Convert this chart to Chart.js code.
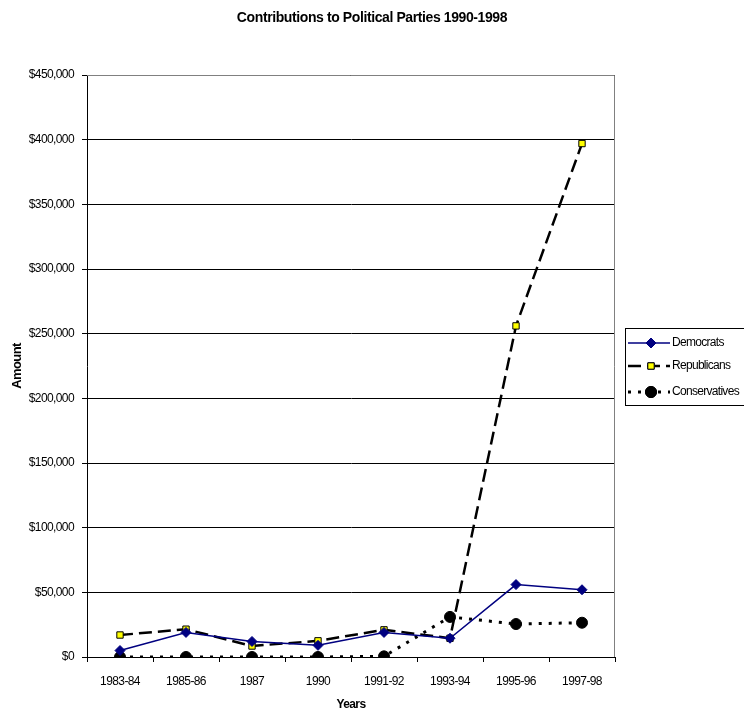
<!DOCTYPE html>
<html>
<head>
<meta charset="utf-8">
<script src="https://cdn.jsdelivr.net/npm/chart.js@4.4.0/dist/chart.umd.min.js"></script>
<style>
  html, body { margin: 0; padding: 0; background: #fff; }
  #wrap { width: 744px; height: 716px; }
</style>
</head>
<body>
<div id="wrap"><canvas id="chart" width="744" height="716"></canvas></div>
<script>
// chart data
const years = ['1983-84', '1985-86', '1987', '1990', '1991-92', '1993-94', '1995-96', '1997-98'];
const democrats = [5000, 19000, 12000, 9000, 19000, 14500, 56000, 52000];
const republicans = [17000, 21500, 8500, 12500, 21000, 14500, 256000, 397000];
const conservatives = [0, 0, 0, 0, 500, 31000, 25500, 26500];
const yTicks = [0, 50000, 100000, 150000, 200000, 250000, 300000, 350000, 400000, 450000];
const chartTitle = 'Contributions to Political Parties 1990-1998';

const FONT = 'Arial, "Liberation Sans", sans-serif';

// the original text is set tight, so squeeze the letters a bit
const tight = {
    id: 'tight',
    beforeLayout(chart) { chart.ctx.letterSpacing = '-0.6px'; },
    beforeDraw(chart) { chart.ctx.letterSpacing = '-0.6px'; }
};

// title centred on the whole picture, not just the plot
const pageTitle = {
    id: 'pageTitle',
    afterDraw(chart) {
        const ctx = chart.ctx;
        ctx.save();
        ctx.letterSpacing = '-0.4px';
        ctx.font = 'bold 14px ' + FONT;
        ctx.fillStyle = '#000';
        ctx.textAlign = 'center';
        ctx.textBaseline = 'middle';
        ctx.fillText(chartTitle, 372, 18);
        ctx.restore();
    }
};

// grey frame on top/right of the plot area
const frame = {
    id: 'frame',
    beforeDatasetsDraw(chart) {
        const { ctx, chartArea: a } = chart;
        ctx.save();
        ctx.strokeStyle = '#808080';
        ctx.lineWidth = 1;
        ctx.beginPath();
        ctx.moveTo(a.left, a.top + 0.5);
        ctx.lineTo(a.right - 0.5, a.top + 0.5);
        ctx.lineTo(a.right - 0.5, a.bottom);
        ctx.stroke();
        ctx.restore();
    }
};

// legend box with line + marker samples, like the original
const boxLegend = {
    id: 'boxLegend',
    afterDraw(chart) {
        const { ctx } = chart;
        const x = 625, y = 328, w = 126, h = 78;
        ctx.save();
        ctx.strokeStyle = '#000';
        ctx.lineWidth = 1;
        ctx.strokeRect(x + 0.5, y + 0.5, w - 1, h - 1);
        ctx.font = '12px ' + FONT;
        ctx.letterSpacing = '-0.7px';
        ctx.textBaseline = 'middle';
        ctx.fillStyle = '#000';
        const rows = [343, 366, 392];
        chart.data.datasets.forEach((ds, i) => {
            const cy = rows[i];
            ctx.save();
            ctx.strokeStyle = ds.borderColor;
            ctx.lineWidth = ds.borderWidth;
            ctx.setLineDash(ds.borderDash || []);
            ctx.beginPath();
            ctx.moveTo(x + 3, cy);
            ctx.lineTo(x + 45, cy);
            ctx.stroke();
            ctx.restore();
            Chart.helpers.drawPoint(ctx, {
                pointStyle: ds.pointStyle,
                radius: ds.pointRadius,
                borderWidth: ds.pointBorderWidth,
                rotation: 0
            }, x + 26, cy);
            ctx.fillStyle = ds.pointBackgroundColor;
            ctx.strokeStyle = ds.pointBorderColor;
            ctx.lineWidth = ds.pointBorderWidth;
            ctx.fill();
            ctx.stroke();
            ctx.fillStyle = '#000';
            ctx.fillText(ds.label, x + 47, cy);
        });
        ctx.restore();
    }
};

new Chart(document.getElementById('chart'), {
    type: 'line',
    data: {
        labels: years,
        datasets: [
            {
                label: 'Democrats',
                data: democrats,
                borderColor: '#000080',
                borderWidth: 1.5,
                pointStyle: 'rectRot',
                pointRadius: 5,
                pointBackgroundColor: '#000080',
                pointBorderColor: '#000080',
                pointBorderWidth: 1,
                tension: 0
            },
            {
                label: 'Republicans',
                data: republicans,
                borderColor: '#000',
                borderWidth: 2.5,
                borderDash: [13, 6],
                pointStyle: 'rect',
                pointRadius: 4.5,
                pointBackgroundColor: '#ffff00',
                pointBorderColor: '#000',
                pointBorderWidth: 1,
                tension: 0
            },
            {
                label: 'Conservatives',
                data: conservatives,
                borderColor: '#000',
                borderWidth: 3,
                borderDash: [3, 7],
                pointStyle: 'circle',
                pointRadius: 5.5,
                pointBackgroundColor: '#000',
                pointBorderColor: '#000',
                pointBorderWidth: 1,
                tension: 0
            }
        ]
    },
    options: {
        responsive: false,
        animation: false,
        layout: { padding: { left: 0, right: 129, top: 75, bottom: 0 } },
        plugins: {
            legend: { display: false },
            tooltip: { enabled: false },
            title: { display: false }
        },
        scales: {
            x: {
                type: 'category',
                offset: true,
                grid: {
                    offset: true,
                    drawOnChartArea: false,
                    drawTicks: true,
                    tickLength: 5,
                    color: '#000'
                },
                border: { color: '#000', width: 1 },
                ticks: { color: '#000', font: { family: FONT, size: 12 }, padding: 12, maxRotation: 0 },
                title: {
                    display: true,
                    text: 'Years',
                    color: '#000',
                    font: { family: FONT, size: 12, weight: 'bold' },
                    padding: { top: 10 }
                },
                afterFit(scale) { scale.height = 59; }
            },
            y: {
                min: 0,
                max: 450000,
                afterBuildTicks(scale) { scale.ticks = yTicks.map(v => ({ value: v })); },
                grid: { color: '#000', lineWidth: 1, tickLength: 5 },
                border: { color: '#000', width: 1 },
                ticks: {
                    color: '#000',
                    font: { family: FONT, size: 12 },
                    padding: 8,
                    callback: v => '$' + v.toLocaleString('en-US')
                },
                title: {
                    display: true,
                    text: 'Amount',
                    color: '#000',
                    font: { family: FONT, size: 13, weight: 'bold' },
                    padding: { top: 10, bottom: 0 }
                },
                afterFit(scale) { scale.width = 87; }
            }
        }
    },
    plugins: [tight, frame, boxLegend, pageTitle]
});
</script>
</body>
</html>
